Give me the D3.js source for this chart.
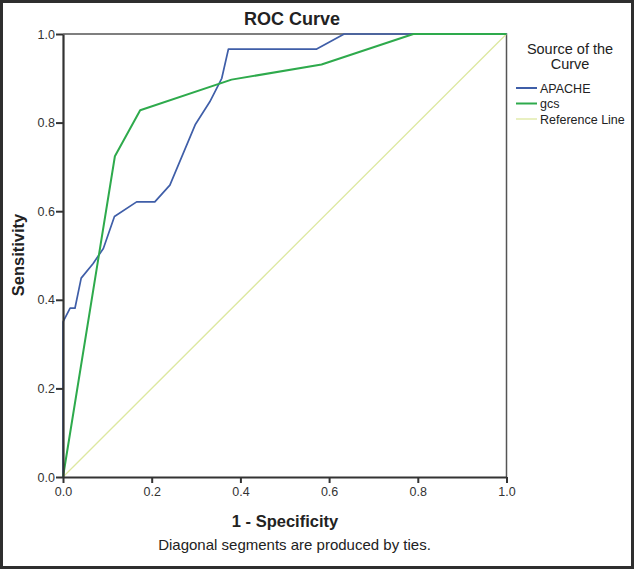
<!DOCTYPE html>
<html>
<head>
<meta charset="utf-8">
<script src="https://cdn.jsdelivr.net/npm/d3@7"></script>
<style>
  body { margin: 0; background: #fff; }
  #chart { width: 634px; height: 569px; }
  text { font-family: "Liberation Sans", Arial, sans-serif; }
</style>
</head>
<body>
<div id="chart"></div>
<script>
// ROC points: [1 - specificity, sensitivity]
var apache = [
    [0, 0], [0, 0.35], [0.016, 0.381], [0.027, 0.381], [0.041, 0.449],
    [0.068, 0.482], [0.091, 0.516], [0.116, 0.588], [0.166, 0.621],
    [0.207, 0.621], [0.241, 0.659], [0.298, 0.795], [0.331, 0.847],
    [0.358, 0.9], [0.373, 0.966], [0.572, 0.966], [0.634, 1], [1, 1]
];
var gcs = [
    [0, 0], [0.117, 0.724], [0.174, 0.828], [0.38, 0.897],
    [0.583, 0.931], [0.79, 1], [1, 1]
];
var refLine = [[0, 0], [1, 1]];
var ticks = [0, 0.2, 0.4, 0.6, 0.8, 1.0];
var seriesNames = ["APACHE", "gcs", "Reference Line"];
var seriesColors = ["#3f5ea8", "#2eaa4c", "#dde8a0"];

function renderRoc(render_id) {
    var div_width = 634, div_height = 569;

    var svg = d3.select("#" + render_id)
        .append("svg")
        .attr("width", div_width)
        .attr("height", div_height);

    // dark frame round the whole picture
    svg.append("rect")
        .attr("x", 1.5).attr("y", 1.5)
        .attr("width", div_width - 3).attr("height", div_height - 3)
        .attr("fill", "#fff")
        .attr("stroke", "#2e2e2e")
        .attr("stroke-width", 3);

    var left = 63, right = 506.5, top = 34, bottom = 477;

    var x = d3.scaleLinear().domain([0, 1]).range([left, right]);
    var y = d3.scaleLinear().domain([0, 1]).range([bottom, top]);

    // plot box (top and right sides)
    svg.append("path")
        .attr("d", "M" + x(0) + "," + y(1) + "H" + x(1) + "V" + y(0))
        .attr("fill", "none")
        .attr("stroke", "#555")
        .attr("stroke-width", 1.5);

    var line = d3.line()
        .x(function (d) { return x(d[0]); })
        .y(function (d) { return y(d[1]); });

    var all = [apache, gcs, refLine];
    var widths = [1.7, 2, 1.3];
    // draw reference first so the curves sit on top
    [2, 0, 1].forEach(function (i) {
        svg.append("path")
            .datum(all[i])
            .attr("fill", "none")
            .attr("stroke", seriesColors[i])
            .attr("stroke-width", widths[i])
            .attr("stroke-linejoin", "round")
            .attr("d", line);
    });

    var fmt = d3.format(".1f");

    var xAxis = svg.append("g")
        .attr("transform", "translate(0," + bottom + ")")
        .call(d3.axisBottom(x).tickValues(ticks).tickFormat(fmt).tickSize(6).tickPadding(4).tickSizeOuter(0));
    var yAxis = svg.append("g")
        .attr("transform", "translate(" + left + ",0)")
        .call(d3.axisLeft(y).tickValues(ticks).tickFormat(fmt).tickSize(7).tickPadding(1).tickSizeOuter(0));

    [xAxis, yAxis].forEach(function (ax) {
        ax.select(".domain").attr("stroke", "#333").attr("stroke-width", 2.2);
        ax.selectAll(".tick line").attr("stroke", "#333").attr("stroke-width", 2);
        ax.selectAll(".tick text")
            .attr("fill", "#333")
            .style("font-size", "12.5px")
            .style("font-family", "'Liberation Sans', Arial, sans-serif");
    });

    // titles
    svg.append("text")
        .attr("x", 292).attr("y", 25)
        .attr("text-anchor", "middle")
        .style("font-size", "18px").style("font-weight", "bold")
        .attr("fill", "#222")
        .text("ROC Curve");

    svg.append("text")
        .attr("x", 285).attr("y", 527)
        .attr("text-anchor", "middle")
        .style("font-size", "16.5px").style("font-weight", "bold")
        .attr("fill", "#222")
        .text("1 - Specificity");

    svg.append("text")
        .attr("x", 294.5).attr("y", 550)
        .attr("text-anchor", "middle")
        .style("font-size", "15px")
        .attr("fill", "#222")
        .text("Diagonal segments are produced by ties.");

    svg.append("text")
        .attr("transform", "translate(24,255) rotate(-90)")
        .attr("text-anchor", "middle")
        .style("font-size", "16.5px").style("font-weight", "bold")
        .attr("fill", "#222")
        .text("Sensitivity");

    // legend
    var lg = svg.append("g");
    lg.append("text")
        .attr("x", 570).attr("y", 54)
        .attr("text-anchor", "middle")
        .style("font-size", "14.5px")
        .attr("fill", "#222")
        .text("Source of the");
    lg.append("text")
        .attr("x", 570).attr("y", 69)
        .attr("text-anchor", "middle")
        .style("font-size", "14.5px")
        .attr("fill", "#222")
        .text("Curve");

    var item = lg.selectAll(".item")
        .data(seriesNames)
        .enter().append("g")
        .attr("class", "item")
        .attr("transform", function (d, i) { return "translate(516," + (88 + i * 15.5) + ")"; });
    item.append("line")
        .attr("x1", 0).attr("x2", 21)
        .attr("stroke", function (d, i) { return seriesColors[i]; })
        .attr("stroke-width", function (d, i) { return i === 2 ? 1.3 : 2; });
    item.append("text")
        .attr("x", 24).attr("dy", "0.36em")
        .style("font-size", "12.5px")
        .attr("fill", "#222")
        .text(function (d) { return d; });
}

renderRoc("chart");
</script>
</body>
</html>
